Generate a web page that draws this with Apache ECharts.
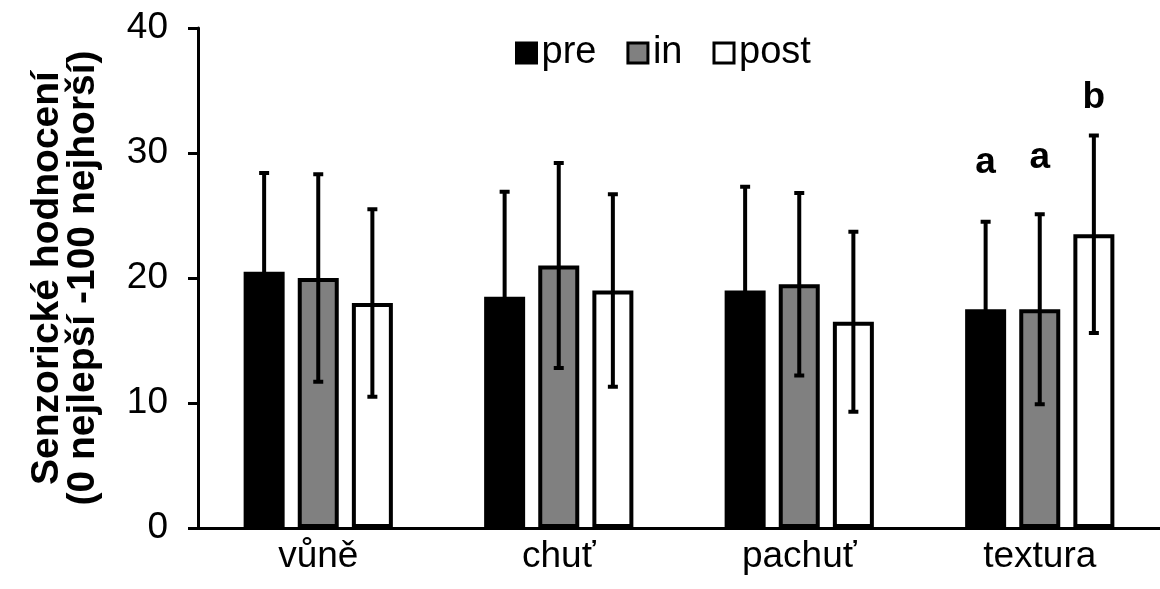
<!DOCTYPE html>
<html>
<head>
<meta charset="utf-8">
<script src="https://cdn.jsdelivr.net/npm/echarts@6/dist/echarts.min.js"></script>
<style>
  html, body { margin: 0; padding: 0; background: #fff; }
  #main { width: 1160px; height: 589px; }
</style>
</head>
<body>
<div id="main"></div>
<script>
// data
var categories = ['vůně', 'chuť', 'pachuť', 'textura'];
var seriesNames = ['pre', 'in', 'post'];
var preValues = [20.5, 18.5, 19.0, 17.5];
var inValues = [20.0, 21.0, 19.5, 17.5];
var postValues = [18.0, 19.0, 16.5, 23.5];
var preErr = [7.9, 8.4, 8.3, 7.0];
var inErr = [8.3, 8.2, 7.3, 7.6];
var postErr = [7.5, 7.7, 7.2, 7.9];
// significance letters and the value at which they sit
var preSig = ['', '', '', 'a'];
var inSig = ['', '', '', 'a'];
var postSig = ['', '', '', 'b'];
var preSigAt = [0, 0, 0, 29.2];
var inSigAt = [0, 0, 0, 29.6];
var postSigAt = [0, 0, 0, 34.4];
var yTicks = [0, 10, 20, 30, 40];

var FONT = 'Liberation Sans';
var BAR_W = 41;
var BAR_GAP = 0.32;
var fills = ['#000000', '#808080', '#ffffff'];

var values = [preValues, inValues, postValues];
var errs = [preErr, inErr, postErr];
var sigs = [preSig, inSig, postSig];
var sigAt = [preSigAt, inSigAt, postSigAt];

var myChart = echarts.init(document.getElementById('main'));

function errorSeries(k) {
    var data = values[k].map(function(v, i) {
        return [i, v - errs[k][i], v + errs[k][i], sigAt[k][i]];
    });
    return {
        type: 'custom',
        name: seriesNames[k] + '-err',
        z: 10,
        silent: true,
        renderItem: function(params, api) {
            var i = api.value(0);
            var lo = api.coord([i, api.value(1)]);
            var hi = api.coord([i, api.value(2)]);
            var x = lo[0] + (k - 1) * BAR_W * (1 + BAR_GAP);
            var capW = 5;
            var st = { stroke: '#000', lineWidth: 4 };
            var children = [
                { type: 'line', shape: { x1: x, y1: lo[1], x2: x, y2: hi[1] }, style: st },
                { type: 'line', shape: { x1: x - capW, y1: lo[1], x2: x + capW, y2: lo[1] }, style: st },
                { type: 'line', shape: { x1: x - capW, y1: hi[1], x2: x + capW, y2: hi[1] }, style: st }
            ];
            var letter = sigs[k][i];
            if (letter) {
                var p = api.coord([i, api.value(3)]);
                children.push({
                    type: 'text',
                    style: {
                        x: x, y: p[1], text: letter,
                        align: 'center', verticalAlign: 'middle',
                        font: 'bold 37px "' + FONT + '"', fill: '#000'
                    }
                });
            }
            return { type: 'group', children: children };
        },
        data: data
    };
}

var barSeries = seriesNames.map(function(name, k) {
    return {
        name: name,
        type: 'bar',
        barWidth: BAR_W,
        barGap: (BAR_GAP * 100) + '%',
        itemStyle: {
            color: fills[k],
            borderColor: '#000',
            borderWidth: 4
        },
        data: values[k]
    };
});

var option = {
    animation: false,
    textStyle: { fontFamily: FONT, color: '#000' },
    legend: {
        data: seriesNames,
        top: 29,
        left: 510,
        icon: 'rect',
        itemWidth: 20,
        itemHeight: 20,
        itemGap: 30,
        itemStyle: { borderColor: '#000', borderWidth: 3 },
        textStyle: { fontSize: 38, color: '#000', fontFamily: FONT }
    },
    grid: { left: 198, right: -9, top: 28, bottom: 61 },
    xAxis: {
        type: 'category',
        data: categories,
        axisLine: { lineStyle: { color: '#000', width: 3 } },
        axisTick: { show: false },
        axisLabel: { fontSize: 37, color: '#000', margin: 10, fontFamily: FONT }
    },
    yAxis: {
        type: 'value',
        min: yTicks[0],
        max: yTicks[yTicks.length - 1],
        interval: 10,
        name: 'Senzorické hodnocení\n(0 nejlepší -100 nejhorší)',
        nameLocation: 'middle',
        nameGap: 97,
        nameTextStyle: { fontSize: 39, fontWeight: 'bold', color: '#000', lineHeight: 36, fontFamily: FONT },
        axisLine: { show: true, lineStyle: { color: '#000', width: 3 } },
        axisTick: { show: true, inside: false, length: 10, lineStyle: { color: '#000', width: 3 } },
        axisLabel: { fontSize: 37, color: '#000', margin: 30, fontFamily: FONT },
        splitLine: { show: false }
    },
    series: barSeries.concat([errorSeries(0), errorSeries(1), errorSeries(2)])
};

myChart.setOption(option);
</script>
</body>
</html>
